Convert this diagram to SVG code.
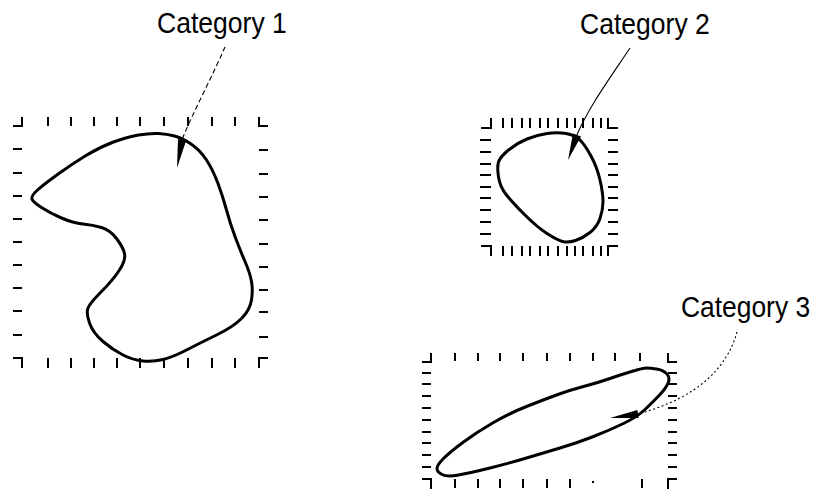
<svg xmlns="http://www.w3.org/2000/svg" width="819" height="493" viewBox="0 0 819 493">
<style>
.bg{fill:#fff}
.shape{fill:none;stroke:#000;stroke-width:3;stroke-linejoin:round}
.tick{fill:none;stroke:#000;stroke-width:2}
.lead{fill:none;stroke:#000;stroke-width:1.1}
.dash{stroke-dasharray:5 3}
.dot{stroke-dasharray:2 2.5}
.head{fill:#000;stroke:none}
.lbl{font-family:"Liberation Sans",Arial,sans-serif;font-size:30px;fill:#000}
</style>
<rect class="bg" x="0" y="0" width="819" height="493"/>

<g id="category1">
  <path class="tick" d="M22,117V126H13 M259,117V126H268 M13,358H22V368 M268,358H259V368
  M48,117v9 M71,117v9 M94,117v9 M117,117v9 M140,117v9 M164,117v9 M188,117v9 M212,117v9 M235,117v9
  M48,358v10 M71,358v10 M94,358v10 M117,358v10 M140,358v10 M164,358v10 M188,358v10 M212,358v10 M235,358v10
  M13,149h9 M13,173h9 M13,196h9 M13,219h9 M13,242h9 M13,265h9 M13,288h9 M13,311h9 M13,335h9
  M259,150h9 M259,174h9 M259,197h9 M259,220h9 M259,244h9 M259,267h9 M259,290h9 M259,312h9 M259,337h9"/>
  <path class="shape" d="M32,199 Q31,196 37,190.5 Q43,185 57.5,174.5 Q72,164 86,155.5 Q100,147 113.5,142 Q127,137 138.5,135 Q150,133 158.5,133.5 Q167,134 174.5,136 Q182,138 191,144 Q200,150 206.5,160 Q213,170 218,183.5 Q223,197 226.5,210 Q230,223 235,236.5 Q240,250 245,261.5 Q250,273 251.5,281.5 Q253,290 251.5,300 Q250,310 241.5,318.5 Q233,327 216.5,335 Q200,343 186.5,350 Q173,357 163,359.5 Q153,362 143,361 Q133,360 123,355 Q113,350 103,341.5 Q93,333 89.5,323 Q86,313 88,308 Q90,303 101.5,291.5 Q113,280 119.5,270 Q126,260 124.5,253.5 Q123,247 116.5,238.5 Q110,230 101.5,227.5 Q93,225 83,224 Q73,223 61.5,218 Q50,213 41.5,207.5 Q33,202 32,199 Z"/>
  <text class="lbl" transform="translate(157,33) scale(0.885,1)">Category 1</text>
</g>

<g id="category2">
  <path class="tick" d="M491,118V128H481 M608,118V128H618 M481,246H491V256 M618,246H608V256
  M503,118v10 M512,118v10 M522,118v10 M530,118v10 M540,118v10 M548,118v10 M558,118v10 M567,118v10 M575,118v10 M583,118v10 M593,118v10 M601,118v10
  M503,246v10 M512,246v10 M522,246v10 M530,246v10 M540,246v10 M548,246v10 M558,246v10 M567,246v10 M575,246v10 M583,246v10 M593,246v10 M601,246v10
  M480,140h11 M480,152h11 M480,164h11 M480,175h11 M480,187h11 M480,198h11 M480,210h11 M480,222h11 M480,234h11
  M608,140h10 M608,152h10 M608,164h10 M608,175h10 M608,187h10 M608,198h10 M608,210h10 M608,222h10 M608,234h10"/>
  <path class="shape" d="M547,133.5 Q557,132 566,133.5 Q575,135 580,140 Q585,145 591,156 Q597,167 600,180 Q603,193 603,201.5 Q603,210 600,218.5 Q597,227 590,232.5 Q583,238 575.5,240.5 Q568,243 562.5,241.5 Q557,240 547,233.5 Q537,227 525,215 Q513,203 506.5,195 Q500,187 498.5,177 Q497,167 498.5,162 Q500,157 508.5,150 Q517,143 527,139 Q537,135 547,133.5 Z"/>
  <text class="lbl" transform="translate(580,34) scale(0.885,1)">Category 2</text>
</g>

<g id="category3">
  <path class="tick" d="M431,353V362H422 M668,353V362H677 M422,479H431V489 M677,479H668V489
  M455,353v8 M478,353v8 M500,353v8 M523,353v8 M547,353v8 M570,353v8 M593,353v8 M615,353v8 M640,353v8
  M455,479v9 M478,479v9 M500,479v9 M523,479v9 M547,479v9 M570,479v9 M593,481v2 M642,479v9
  M422,373h9 M422,384h9 M422,396h9 M422,408h9 M422,420h9 M422,432h9 M422,443h9 M422,455h9 M422,467h9
  M668,373h9 M668,384h9 M668,396h9 M668,408h9 M668,420h9 M668,432h9 M668,443h9 M668,455h9 M668,467h9"/>
  <path class="shape" d="M646.5,368 Q650,368 656.5,369 Q663,370 666.5,373.5 Q670,377 668.5,382 Q667,387 660,394.5 Q653,402 645,409.5 Q637,417 623.5,423.5 Q610,430 593.5,436.5 Q577,443 560,448 Q543,453 526.5,458 Q510,463 490,468 Q470,473 458.5,475 Q447,477 442,474.5 Q437,472 437,468.5 Q437,465 443.5,458.5 Q450,452 463.5,442 Q477,432 493.5,422.5 Q510,413 526.5,406.5 Q543,400 556.5,395 Q570,390 583.5,386.5 Q597,383 608.5,379 Q620,375 631.5,371.5 Q643,368 646.5,368 Z"/>
  <text class="lbl" transform="translate(681,317) scale(0.88,1)">Category 3</text>
</g>

<g id="connectors">
  <path class="lead dash" d="M225,47 C213,75 193,112 181,142"/>
  <polygon class="head" points="177,168 186,141 178,139"/>
  <path class="lead" d="M630,48 C610,78 588,108 576,137"/>
  <polygon class="head" points="568,160 581,136.5 573,133.5"/>
  <path class="lead dot" d="M737,332 C728,365 700,398 637,414"/>
  <polygon class="head" points="610,418 638.6,418 637.4,410"/>
</g>
</svg>
